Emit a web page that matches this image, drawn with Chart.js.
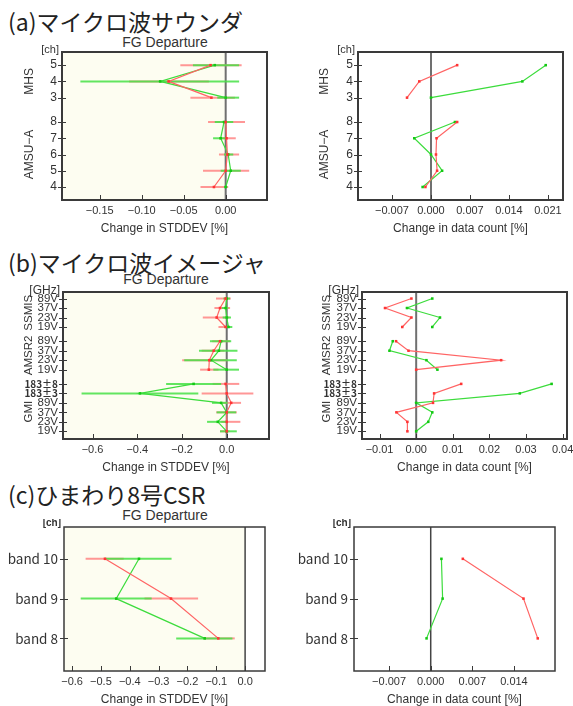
<!DOCTYPE html>
<html>
<head>
<meta charset="utf-8">
<script src="https://cdn.jsdelivr.net/npm/chart.js@4.4.1/dist/chart.umd.min.js"></script>
<style>
  body { margin: 0; width: 573px; height: 706px; position: relative; overflow: hidden; background: #fff; font-family: 'Liberation Sans', Arial, sans-serif; }
  canvas { position: absolute; }
  .head { position: absolute; left: 8px; font-family: 'Noto Sans CJK JP', sans-serif; font-size: 23px; line-height: 1; color: #222; white-space: nowrap; }
  .fg { position: absolute; font-size: 14px; line-height: 16px; color: #333; transform: translateX(-50%); white-space: nowrap; }
</style>
</head>
<body>
<div class="head" style="top:10px">(a)マイクロ波サウンダ</div>
<div class="fg" style="left:165px; top:34px">FG Departure</div>
<div class="head" style="top:251px">(b)マイクロ波イメージャ</div>
<div class="fg" style="left:166px; top:271px">FG Departure</div>
<div class="head" style="top:483px">(c)ひまわり8号CSR</div>
<div class="fg" style="left:165px; top:507px">FG Departure</div>
<canvas id="a1"></canvas>
<canvas id="a2"></canvas>
<canvas id="b1"></canvas>
<canvas id="b2"></canvas>
<canvas id="c1"></canvas>
<canvas id="c2"></canvas>
<script>
// ---- (a) microwave sounders, rows bottom to top ----
const amsuCh = ['4', '5', '6', '7', '8'];
const mhsCh = ['3', '4', '5'];
// [low, mid, high] change in STDDEV [%]
const amsuStdRed = [[-0.030, -0.014, 0.003], [-0.027, 0.000, 0.028], [-0.008, 0.002, 0.016], [-0.008, 0.001, 0.012], [-0.021, 0.000, 0.023]];
const amsuStdGreen = [[-0.002, 0.000, 0.002], [-0.006, 0.006, 0.018], [-0.002, 0.003, 0.009], [-0.015, -0.006, 0.001], [-0.013, -0.002, 0.009]];
const mhsStdRed = [[-0.042, -0.017, 0.011], [-0.115, -0.068, -0.020], [-0.054, -0.018, 0.019]];
const mhsStdGreen = [[-0.010, 0.000, 0.016], [-0.173, -0.078, 0.016], [-0.039, -0.013, 0.016]];
const amsuCountRed = [-0.0010, 0.0011, 0.0009, 0.0010, 0.0047];
const amsuCountGreen = [-0.0015, 0.0020, 0.0000, -0.0030, 0.0043];
const mhsCountRed = [-0.0043, -0.0021, 0.0047];
const mhsCountGreen = [0.0000, 0.0164, 0.0206];
const soundStdTicks = [-0.15, -0.10, -0.05, 0.00];
const soundCountTicks = [-0.007, 0.000, 0.007, 0.014, 0.021];

// ---- (b) microwave imagers ----
const gmiCh = ['19V', '23V', '37V', '89V', '183±3', '183±8'];
const amsr2Ch = ['19V', '23V', '37V', '89V'];
const ssmisCh = ['19V', '23V', '37V', '89V'];
const gmiStdRed = [[-0.030, 0.000, 0.012], [-0.025, 0.000, 0.061], [-0.047, 0.000, 0.045], [-0.018, 0.020, 0.064], [-0.112, 0.000, 0.119], [-0.063, -0.005, 0.056]];
const gmiStdGreen = [[-0.030, 0.000, 0.045], [-0.088, -0.040, 0.004], [-0.045, 0.000, 0.042], [-0.066, -0.025, 0.004], [-0.649, -0.388, -0.127], [-0.271, -0.148, -0.025]];
const amsr2StdRed = [[-0.119, -0.080, -0.037], [-0.199, -0.078, 0.004], [-0.112, -0.058, -0.010], [-0.065, -0.030, 0.015]];
const amsr2StdGreen = [[-0.060, 0.000, 0.055], [-0.190, -0.070, 0.045], [-0.124, -0.035, 0.048], [-0.075, -0.025, 0.020]];
const ssmisStdRed = [[-0.037, -0.005, 0.012], [-0.107, -0.045, 0.012], [-0.055, -0.030, 0.015], [-0.048, -0.005, 0.018]];
const ssmisStdGreen = [[-0.012, 0.008, 0.025], [-0.018, 0.000, 0.019], [-0.022, -0.005, 0.007], [-0.015, 0.000, 0.015]];
const gmiCountRed = [-0.0024, -0.0024, -0.0054, 0.0046, 0.0049, 0.0123];
const gmiCountGreen = [0.0000, 0.0033, 0.0044, 0.0000, 0.0283, 0.0370];
const amsr2CountRed = [0.0000, 0.0232, -0.0021, -0.0055];
const amsr2CountGreen = [0.0058, 0.0028, -0.0073, -0.0064];
const ssmisCountRed = [-0.0038, -0.0013, -0.0085, -0.0013];
const ssmisCountGreen = [0.0044, 0.0065, -0.0025, 0.0044];
const imagStdTicks = [-0.6, -0.4, -0.2, 0.0];
const imagCountTicks = [-0.01, 0.00, 0.01, 0.02, 0.03, 0.04];

// ---- (c) Himawari-8 CSR ----
const ahiBands = ['band 8', 'band 9', 'band 10'];
const ahiStdRed = [[-0.145, -0.093, -0.036], [-0.349, -0.257, -0.163], [-0.553, -0.486, -0.421]];
const ahiStdGreen = [[-0.239, -0.140, -0.044], [-0.570, -0.447, -0.324], [-0.487, -0.368, -0.255]];
const ahiCountRed = [0.0180, 0.0156, 0.0054];
const ahiCountGreen = [-0.0007, 0.0020, 0.0018];
const ahiStdTicks = [-0.6, -0.5, -0.4, -0.3, -0.2, -0.1, 0.0];
const ahiCountTicks = [-0.007, 0.000, 0.007, 0.014];

const RED = '#ff6464', RED_BAR = 'rgba(255,125,125,0.8)', RED_PT = '#ff3434';
const GREEN = '#3cdc3c', GREEN_BAR = 'rgba(70,225,70,0.85)', GREEN_PT = '#14c814';
const SANS = "'Liberation Sans', Arial, sans-serif";
const JP = "'Noto Sans CJK JP', sans-serif";
const TEXT = '#333';

function fmt(v, d) {
    return (v < 0 ? '\u2212' : '') + Math.abs(v).toFixed(d);
}

const mid = v => Array.isArray(v) ? v[1] : v;

const decor = p => ({
    id: 'decor',
    beforeDatasetsDraw(chart) {
        const { ctx, chartArea: a, scales: { x, y } } = chart;
        ctx.save();
        if (p.cream) {
            ctx.fillStyle = '#fdfdf1';
            ctx.fillRect(a.left, a.top, x.getPixelForValue(0) - a.left, a.bottom - a.top);
        }
        const zx = x.getPixelForValue(0);
        ctx.strokeStyle = p.zeroColor;
        ctx.lineWidth = p.zeroWidth;
        ctx.beginPath(); ctx.moveTo(zx, a.top); ctx.lineTo(zx, a.bottom); ctx.stroke();
        // error bars
        ctx.lineWidth = 2;
        p.groups.forEach(g => {
            [[g.red, RED_BAR], [g.green, GREEN_BAR]].forEach(([vals, col]) => {
                ctx.strokeStyle = col;
                vals.forEach((v, i) => {
                    if (!Array.isArray(v)) return;
                    const py = y.getPixelForValue(g.pos[i]);
                    ctx.beginPath();
                    ctx.moveTo(x.getPixelForValue(v[0]), py);
                    ctx.lineTo(x.getPixelForValue(v[2]), py);
                    ctx.stroke();
                });
            });
        });
        ctx.restore();
    },
    afterDraw(chart) {
        const { ctx, chartArea: a, scales: { x, y } } = chart;
        ctx.save();
        ctx.strokeStyle = '#3a3a3a';
        ctx.lineWidth = 1;
        x.ticks.forEach(t => {
            const px = Math.round(x.getPixelForValue(t.value)) + 0.5;
            ctx.beginPath(); ctx.moveTo(px, a.bottom); ctx.lineTo(px, a.bottom - 5); ctx.stroke();
        });
        y.ticks.forEach(t => {
            const py = Math.round(y.getPixelForValue(t.value)) + 0.5;
            ctx.beginPath(); ctx.moveTo(a.left - 4, py); ctx.lineTo(a.left + 4, py); ctx.stroke();
        });
        ctx.lineWidth = p.frameWidth;
        ctx.strokeRect(a.left, a.top, a.right - a.left, a.bottom - a.top);
        ctx.fillStyle = TEXT;
        ctx.font = p.unitFont;
        ctx.textAlign = 'right';
        ctx.textBaseline = 'middle';
        ctx.fillText(p.unit, a.left - 3, a.top + p.unitDy);
        ctx.font = p.groupFont;
        ctx.textAlign = 'center';
        p.groups.forEach(g => {
            if (!g.name) return;
            const gy = y.getPixelForValue((g.pos[0] + g.pos[g.pos.length - 1]) / 2) + (g.nudge || 0);
            ctx.save();
            ctx.translate(a.left - p.groupOffset, gy);
            ctx.rotate(-Math.PI / 2);
            ctx.fillText(g.name, 0, 0);
            ctx.restore();
        });
        ctx.restore();
    }
});

function buildPanel(id, p) {
    const el = document.getElementById(id);
    const [bl, bt, bw, bh] = p.box;
    el.style.left = bl + 'px';
    el.style.top = bt + 'px';
    el.width = bw;
    el.height = bh;
    // stack groups bottom to top with a gap between instruments
    let start = 0;
    p.groups.forEach(g => {
        g.pos = g.labels.map((_, i) => start + i);
        start += g.labels.length - 1 + p.gap;
    });
    const rowPos = p.groups.flatMap(g => g.pos);
    const rowLab = p.groups.flatMap(g => g.labels);

    const datasets = [];
    p.groups.forEach(g => {
        [[g.red, RED, RED_PT], [g.green, GREEN, GREEN_PT]].forEach(([vals, col, pt]) => {
            datasets.push({
                data: vals.map((v, i) => ({ x: mid(v), y: g.pos[i] })),
                showLine: true,
                borderColor: col,
                borderWidth: 1.2,
                backgroundColor: pt,
                pointBackgroundColor: pt,
                pointBorderWidth: 0,
                pointStyle: 'rect',
                pointRadius: 1.8
            });
        });
    });

    new Chart(el, {
        type: 'scatter',
        data: { datasets },
        options: {
            responsive: false,
            animation: false,
            devicePixelRatio: 1,
            layout: { padding: { top: p.plot[1] - bt, right: bl + bw - p.plot[2], left: 0, bottom: 0 } },
            plugins: { legend: { display: false }, tooltip: { enabled: false } },
            scales: {
                x: {
                    type: 'linear', min: p.xMin, max: p.xMax, bounds: 'data',
                    grid: { display: false, drawTicks: false },
                    border: { display: false },
                    afterBuildTicks: s => { s.ticks = p.xTicks.map(v => ({ value: v })); },
                    afterFit: s => {
                        s.height = bt + bh - p.plot[3];
                        s.paddingLeft = 0; s.paddingRight = 0;
                    },
                    ticks: {
                        autoSkip: false, maxRotation: 0, padding: 4, color: TEXT,
                        font: { family: SANS, size: 11 },
                        callback: v => fmt(v, p.xDec)
                    },
                    title: {
                        display: true, text: p.xTitle, color: TEXT,
                        font: { family: SANS, size: 12 }, padding: { top: 0, bottom: 0 }
                    }
                },
                y: {
                    type: 'linear', min: p.yMin, max: p.yMax, bounds: 'data',
                    grid: { display: false, drawTicks: false },
                    border: { display: false },
                    afterBuildTicks: s => { s.ticks = rowPos.map(v => ({ value: v })).sort((a, b) => a.value - b.value); },
                    afterFit: s => {
                        s.width = p.plot[0] - bl;
                        s.paddingTop = 0; s.paddingBottom = 0;
                    },
                    ticks: {
                        autoSkip: false, padding: p.yPad, color: TEXT,
                        font: c => (c.tick && /±/.test(c.tick.label)) ? { family: JP, size: 10, weight: 'bold' } : p.tickFont,
                        callback: v => rowLab[rowPos.indexOf(v)]
                    }
                }
            }
        },
        plugins: [decor(p)]
    });
}

const soundBase = {
    yMin: -0.8, yMax: 8.31, gap: 1.5, unit: '[ch]', unitFont: '11px ' + SANS, unitDy: -2,
    tickFont: { family: SANS, size: 12 }, groupFont: '12px ' + SANS, yPad: 5, frameWidth: 2,
    zeroColor: '#707070', zeroWidth: 2
};
buildPanel('a1', Object.assign({}, soundBase, {
    box: [0, 44, 285, 192], plot: [62, 52, 267, 200],
    xMin: -0.1949, xMax: 0.0492, xTicks: soundStdTicks, xDec: 2, xTitle: 'Change in STDDEV [%]',
    cream: true, groupOffset: 32,
    groups: [
        { name: 'AMSU\u2212A', labels: amsuCh, red: amsuStdRed, green: amsuStdGreen },
        { name: 'MHS', labels: mhsCh, red: mhsStdRed, green: mhsStdGreen }
    ]
}));
buildPanel('a2', Object.assign({}, soundBase, {
    box: [290, 44, 283, 192], plot: [358, 52, 563, 200],
    xMin: -0.0131, xMax: 0.0237, xTicks: soundCountTicks, xDec: 3, xTitle: 'Change in data count [%]',
    cream: false, groupOffset: 33,
    groups: [
        { name: 'AMSU\u2212A', labels: amsuCh, red: amsuCountRed, green: amsuCountGreen },
        { name: 'MHS', labels: mhsCh, red: mhsCountRed, green: mhsCountGreen }
    ]
}));

const imagBase = {
    yMin: -0.81, yMax: 14.69, gap: 1.5, unit: '[GHz]', unitFont: '12px ' + SANS, unitDy: -1,
    tickFont: { family: SANS, size: 11.5 }, groupFont: '11.5px ' + SANS, yPad: 5, frameWidth: 2,
    zeroColor: '#707070', zeroWidth: 2
};
buildPanel('b1', Object.assign({}, imagBase, {
    box: [0, 284, 285, 191], plot: [63, 292, 269, 439],
    xMin: -0.732, xMax: 0.189, xTicks: imagStdTicks, xDec: 1, xTitle: 'Change in STDDEV [%]',
    cream: true, groupOffset: 34,
    groups: [
        { name: 'GMI', labels: gmiCh, red: gmiStdRed, green: gmiStdGreen, nudge: 4 },
        { name: 'AMSR2', labels: amsr2Ch, red: amsr2StdRed, green: amsr2StdGreen },
        { name: 'SSMIS', labels: ssmisCh, red: ssmisStdRed, green: ssmisStdGreen }
    ]
}));
buildPanel('b2', Object.assign({}, imagBase, {
    box: [290, 284, 283, 191], plot: [362, 292, 567, 439],
    xMin: -0.0148, xMax: 0.0412, xTicks: imagCountTicks, xDec: 2, xTitle: 'Change in data count [%]',
    cream: false, groupOffset: 35,
    groups: [
        { name: 'GMI', labels: gmiCh, red: gmiCountRed, green: gmiCountGreen, nudge: 4 },
        { name: 'AMSR2', labels: amsr2Ch, red: amsr2CountRed, green: amsr2CountGreen },
        { name: 'SSMIS', labels: ssmisCh, red: ssmisCountRed, green: ssmisCountGreen }
    ]
}));

const ahiBase = {
    yMin: -0.82, yMax: 2.8, gap: 1, unit: '[ch]', unitFont: 'bold 10px ' + SANS, unitDy: -4,
    tickFont: { family: JP, size: 13.5 }, groupFont: '12px ' + SANS, yPad: 6, frameWidth: 1.5,
    zeroColor: '#444', zeroWidth: 1.5, groupOffset: 0
};
buildPanel('c1', Object.assign({}, ahiBase, {
    box: [0, 519, 285, 188], plot: [64, 527, 265, 671],
    xMin: -0.628, xMax: 0.069, xTicks: ahiStdTicks, xDec: 1, xTitle: 'Change in STDDEV [%]',
    cream: true,
    groups: [{ name: '', labels: ahiBands, red: ahiStdRed, green: ahiStdGreen }]
}));
buildPanel('c2', Object.assign({}, ahiBase, {
    box: [290, 519, 283, 188], plot: [354, 527, 555, 671],
    xMin: -0.0129, xMax: 0.0209, xTicks: ahiCountTicks, xDec: 3, xTitle: 'Change in data count [%]',
    cream: false,
    groups: [{ name: '', labels: ahiBands, red: ahiCountRed, green: ahiCountGreen }]
}));
</script>
</body>
</html>
